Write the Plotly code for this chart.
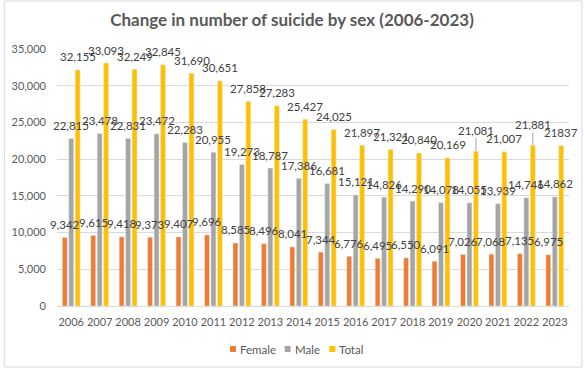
import plotly.graph_objects as go

years = [str(y) for y in range(2006, 2024)]
female = [9342, 9615, 9418, 9373, 9407, 9696, 8585, 8496, 8041, 7344, 6776, 6495, 6550, 6091, 7026, 7068, 7135, 6975]
male = [22815, 23478, 22831, 23472, 22283, 20955, 19273, 18787, 17386, 16681, 15121, 14826, 14290, 14078, 14055, 13939, 14746, 14862]
total = [32155, 33093, 32249, 32845, 31690, 30651, 27858, 27283, 25427, 24025, 21897, 21321, 20840, 20169, 21081, 21007, 21881, 21837]
total_labels = [f"{v:,}" for v in total[:-1]] + ["21837"]
female_labels = [f"{v:,}" for v in female]
male_labels = [f"{v:,}" for v in male]
series_names = ["Female", "Male", "Total"]
series_colors = ["#ED7D31", "#A5A5A5", "#FFC000"]

series = [
    (series_names[0], female, female_labels, series_colors[0], -6.5),
    (series_names[1], male, male_labels, series_colors[1], 0),
    (series_names[2], total, total_labels, series_colors[2], 6.5),
]

FONT = "Lato"
L, R, T, B = 54, 569, 49, 306
W, H = 584, 369
pw, ph = R - L, B - T

def px_x(p):
    return (p - L) / pw

def px_y(p):
    return (B - p) / ph

fig = go.Figure()
annotations = []
for name, vals, labels, color, dx in series:
    fig.add_trace(go.Bar(x=years, y=vals, name=name, marker_color=color, showlegend=False))
    for i, (yr, v, lab) in enumerate(zip(years, vals, labels)):
        lead = name == "Total" and yr in ("2020", "2022")
        if lead:
            annotations.append(dict(x=i, y=v, text=lab, showarrow=True, arrowhead=0,
                                    arrowwidth=1, arrowcolor="#A6A6A6", ax=0, ay=-21,
                                    xshift=dx, standoff=0,
                                    font=dict(family=FONT, size=11.5, color="#404040")))
        else:
            annotations.append(dict(x=i, y=v, text=lab, showarrow=False, xshift=dx, yshift=13,
                                    font=dict(family=FONT, size=11.5, color="#404040")))

# compact legend (drawn as squares + text to match the reference spacing)
legend_sq_x = [228, 283, 328]
shapes = [dict(type="rect", xref="paper", yref="paper",
               x0=px_x(1), x1=px_x(582), y0=px_y(367), y1=px_y(1),
               line=dict(color="#D9D9D9", width=1))]
for name, color, sx in zip(series_names, series_colors, legend_sq_x):
    shapes.append(dict(type="rect", xref="paper", yref="paper",
                       x0=px_x(sx), x1=px_x(sx + 6), y0=px_y(352), y1=px_y(346),
                       fillcolor=color, line=dict(width=0)))
    annotations.append(dict(xref="paper", yref="paper", x=px_x(sx + 8), y=px_y(349),
                            xanchor="left", yanchor="middle", text=name, showarrow=False,
                            font=dict(family=FONT, size=11.5, color="#595959")))

fig.update_layout(
    width=W, height=H,
    margin=dict(l=L, r=W - R, t=T, b=H - B),
    paper_bgcolor="white", plot_bgcolor="white",
    barmode="group", bargap=0.32, bargroupgap=0.23,
    font=dict(family=FONT, color="#595959", size=11),
    showlegend=False,
    title=dict(text="<b>Change in number of suicide by sex (2006-2023)</b>",
               x=0.5, xanchor="center", y=1 - 20 / H, yanchor="middle",
               font=dict(family=FONT, size=17, color="#595959")),
    xaxis=dict(type="category", range=[-0.5, len(years) - 0.5], showgrid=False,
               showline=True, linecolor="#D9D9D9", ticks="", ticklabelstandoff=6,
               tickangle=0, tickfont=dict(size=11, color="#595959")),
    yaxis=dict(range=[0, 35000], dtick=5000, tickformat=",", showgrid=True,
               gridcolor="#D9D9D9", zeroline=False, showline=False, ticks="",
               ticklabelstandoff=10, tickfont=dict(size=11, color="#595959")),
    annotations=annotations,
    shapes=shapes,
)

fig.write_html("out.html", config={"displayModeBar": False},
               post_script="document.body.style.margin='0';")
